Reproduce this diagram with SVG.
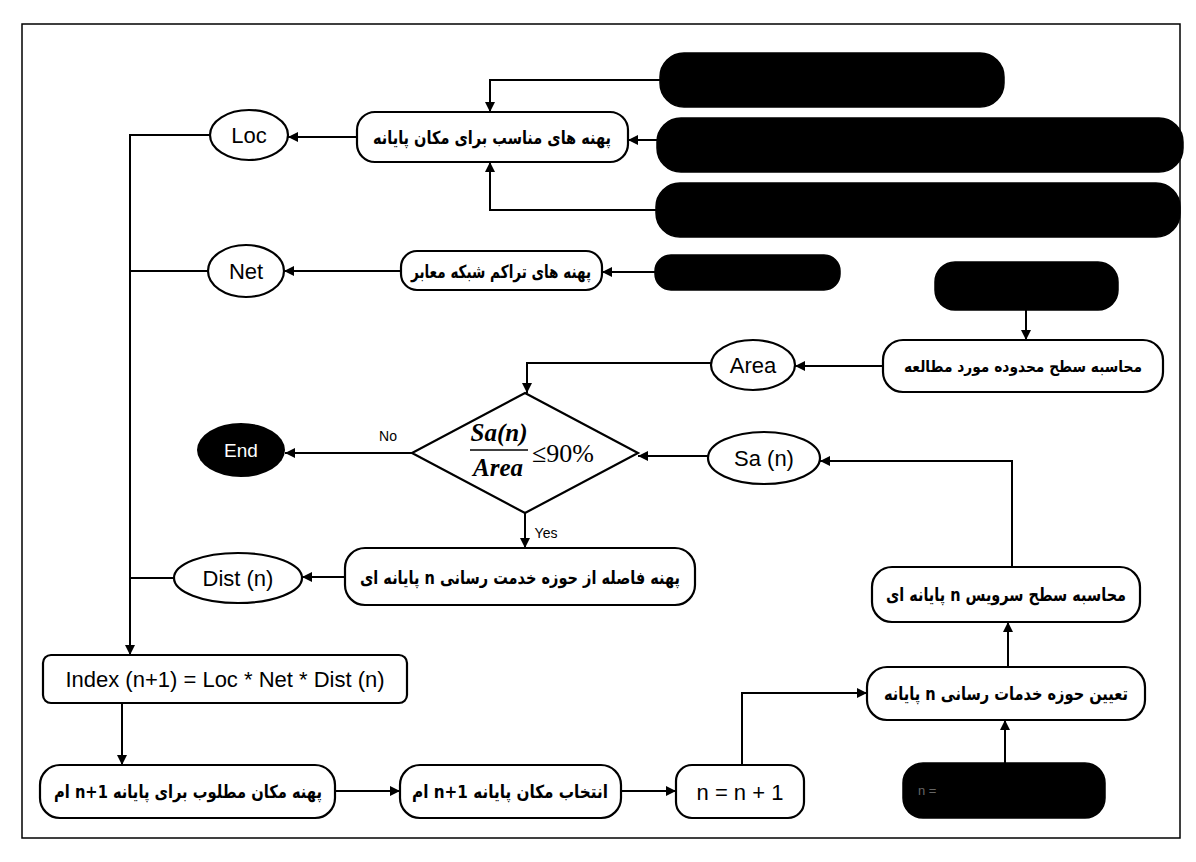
<svg xmlns="http://www.w3.org/2000/svg" width="1196" height="862" viewBox="0 0 1196 862">
<style>
.box{fill:#fff;stroke:#000;stroke-width:2.2}
.blk{fill:#000;stroke:#000;stroke-width:1.5}
.ell{fill:#fff;stroke:#000;stroke-width:2.2}
.ln{fill:none;stroke:#000;stroke-width:2}
.fa{font-family:"DejaVu Sans",sans-serif;font-weight:bold;font-size:18px;fill:#000}
.en{font-family:"Liberation Sans",Arial,sans-serif;font-size:22px;fill:#000}
.sm{font-family:"Liberation Sans",Arial,sans-serif;font-size:14px;fill:#000}
.mt{font-family:"Liberation Serif","Times New Roman",serif;font-style:italic;font-weight:bold;font-size:25px;fill:#000}
</style>
<defs>
<marker id="ah" viewBox="0 0 10 10" refX="10" refY="5" markerWidth="5" markerHeight="5" orient="auto" markerUnits="strokeWidth">
<path d="M0,0 L10,5 L0,10 z" fill="#000"/>
</marker>
</defs>
<rect x="0" y="0" width="1196" height="862" fill="#fff"/>
<rect id="frame" x="22" y="24" width="1158" height="814" fill="none" stroke="#000" stroke-width="1.5"/>

<g id="connectors" class="ln" marker-end="url(#ah)">
<path d="M660,80 H490 V112"/>
<path d="M657,140 H628"/>
<path d="M656,210 H490 V162"/>
<path d="M357,137 H288"/>
<path d="M655,272 H602"/>
<path d="M401,271 H284"/>
<path d="M1026,310 V340"/>
<path d="M883,366 H795"/>
<path d="M711,363 H527 V393"/>
<path d="M412,453 H285"/>
<path d="M708,456 H638"/>
<path d="M1012,567 V461 H820"/>
<path d="M1008,667 V622"/>
<path d="M1005,763 V720"/>
<path d="M742,765 V693 H867"/>
<path d="M621,791 H676"/>
<path d="M335,791 H400"/>
<path d="M122,703 V765"/>
<path d="M525,513 V548"/>
<path d="M345,577 H302"/>
<path d="M210,135 H130 V655"/>
</g>
<g id="connectors-plain" class="ln">
<path d="M208,271 H130"/>
<path d="M174,578 H130"/>
</g>

<g id="src1"><rect class="blk" x="660" y="53" width="344" height="54" rx="24"/></g>
<g id="src2"><rect class="blk" x="657" y="118" width="526" height="54" rx="24"/></g>
<g id="src3"><rect class="blk" x="656" y="183" width="524" height="54" rx="24"/></g>
<g id="locbox"><rect class="box" x="357" y="112" width="271" height="50" rx="18"/>
<text class="fa" x="492" y="144" text-anchor="middle" direction="rtl" textLength="238" lengthAdjust="spacingAndGlyphs">پهنه های مناسب برای مکان پایانه</text></g>
<g id="loc"><ellipse class="ell" cx="249" cy="135" rx="39" ry="25"/><text class="en" x="249" y="143" text-anchor="middle">Loc</text></g>

<g id="netsrc"><rect class="blk" x="655" y="255" width="185" height="35" rx="16"/></g>
<g id="netbox"><rect class="box" x="401" y="251" width="201" height="39" rx="16"/>
<text class="fa" x="501" y="278" text-anchor="middle" direction="rtl" textLength="180" lengthAdjust="spacingAndGlyphs">پهنه های تراکم شبکه معابر</text></g>
<g id="net"><ellipse class="ell" cx="246" cy="271" rx="38" ry="26"/><text class="en" x="246" y="279" text-anchor="middle">Net</text></g>

<g id="areasrc"><rect class="blk" x="935" y="262" width="183" height="48" rx="20"/></g>
<g id="areabox"><rect class="box" x="883" y="340" width="280" height="52" rx="20"/>
<text class="fa" x="1023" y="372" text-anchor="middle" direction="rtl" font-size="16" textLength="238" lengthAdjust="spacingAndGlyphs" style="font-size:16px">محاسبه سطح محدوده مورد مطالعه</text></g>
<g id="area"><ellipse class="ell" cx="753" cy="365" rx="42" ry="25"/><text class="en" x="753" y="373" text-anchor="middle">Area</text></g>

<g id="decision"><polygon class="box" points="525,393 638,453 525,513 412,453"/>
<text class="mt" x="499" y="441" text-anchor="middle">Sa(n)</text>
<line x1="470" y1="450" x2="528" y2="450" stroke="#000" stroke-width="1.5"/>
<text class="mt" x="498" y="476" text-anchor="middle">Area</text>
<text x="532" y="462" font-family="'Liberation Serif','Times New Roman',serif" font-size="26" fill="#000">≤90%</text></g>
<text class="sm" x="388" y="441" text-anchor="middle">No</text>
<text class="sm" x="546" y="538" text-anchor="middle">Yes</text>

<g id="end"><ellipse cx="241" cy="450" rx="44" ry="27" fill="#000"/><text x="241" y="457" text-anchor="middle" font-family="'Liberation Sans',Arial,sans-serif" font-size="19" fill="#fff">End</text></g>

<g id="sa"><ellipse class="ell" cx="764" cy="458" rx="56" ry="26"/><text class="en" x="764" y="466" text-anchor="middle">Sa (n)</text></g>

<g id="servbox"><rect class="box" x="872" y="567" width="268" height="55" rx="20"/>
<text class="fa" x="1006" y="601" text-anchor="middle" direction="rtl" textLength="240" lengthAdjust="spacingAndGlyphs">محاسبه سطح سرویس n پایانه ای</text></g>
<g id="detbox"><rect class="box" x="867" y="667" width="278" height="53" rx="20"/>
<text class="fa" x="1006" y="700" text-anchor="middle" direction="rtl" textLength="244" lengthAdjust="spacingAndGlyphs">تعیین حوزه خدمات رسانی n پایانه</text></g>
<g id="nsrc"><rect class="blk" x="903" y="763" width="202" height="55" rx="20"/>
<text x="918" y="795" font-family="'Liberation Sans',Arial,sans-serif" font-size="13" fill="#666">n =</text></g>

<g id="distbox"><rect class="box" x="345" y="548" width="350" height="57" rx="20"/>
<text class="fa" x="520" y="584" text-anchor="middle" direction="rtl" textLength="320" lengthAdjust="spacingAndGlyphs">پهنه فاصله از حوزه خدمت رسانی n پایانه ای</text></g>
<g id="dist"><ellipse class="ell" cx="238" cy="578" rx="64" ry="25"/><text class="en" x="238" y="586" text-anchor="middle">Dist (n)</text></g>

<g id="index"><rect class="box" x="43" y="655" width="364" height="48" rx="8"/>
<text class="en" x="225" y="687" text-anchor="middle">Index (n+1) = Loc * Net * Dist (n)</text></g>

<g id="best"><rect class="box" x="40" y="765" width="295" height="53" rx="20"/>
<text class="fa" x="188" y="798" text-anchor="middle" direction="rtl" textLength="268" lengthAdjust="spacingAndGlyphs">پهنه مکان مطلوب برای پایانه n+1 ام</text></g>
<g id="select"><rect class="box" x="400" y="765" width="221" height="53" rx="20"/>
<text class="fa" x="510" y="798" text-anchor="middle" direction="rtl" textLength="196" lengthAdjust="spacingAndGlyphs">انتخاب مکان پایانه n+1 ام</text></g>
<g id="inc"><rect class="box" x="676" y="765" width="128" height="53" rx="16"/>
<text class="en" x="740" y="800" text-anchor="middle">n = n + 1</text></g>
</svg>
